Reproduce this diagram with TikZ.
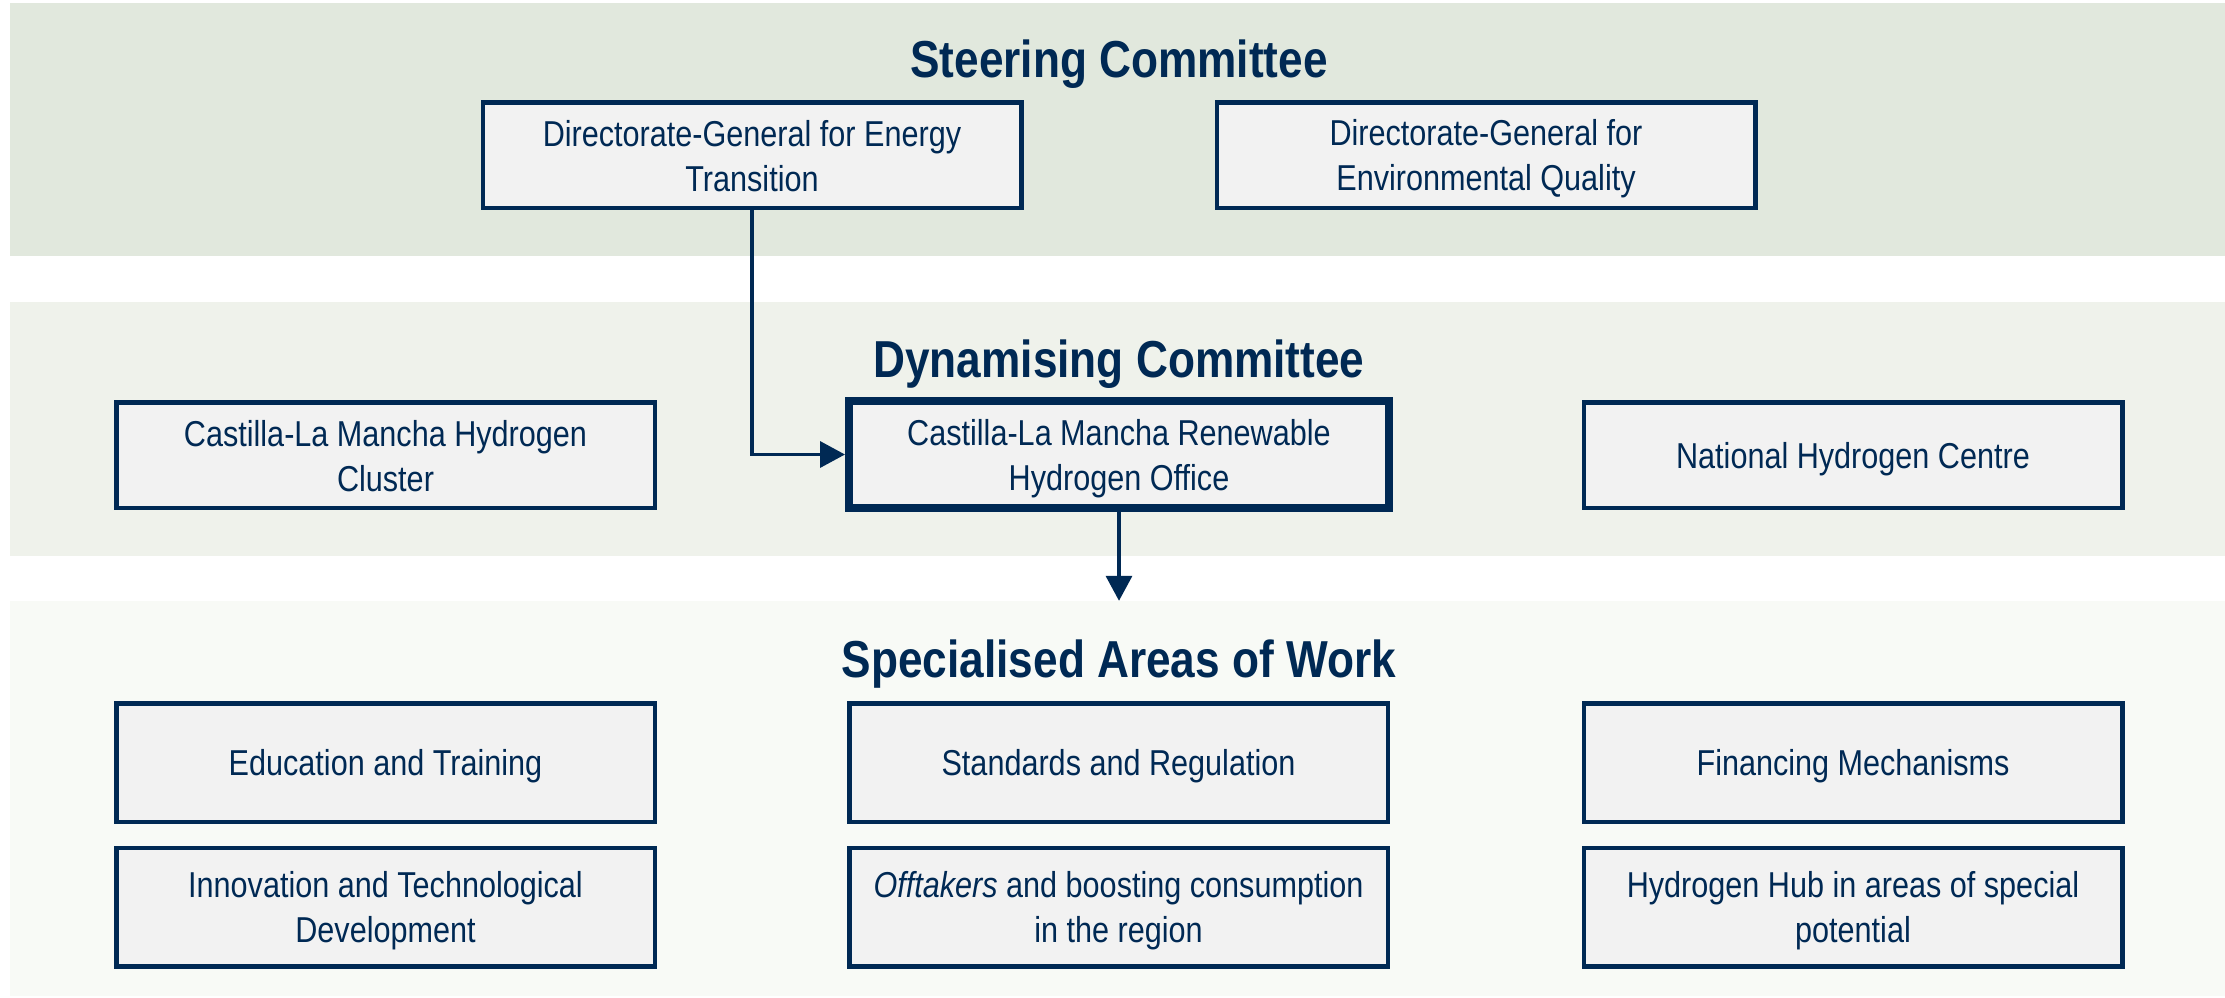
\documentclass[tikz,border=0pt]{standalone}
\usepackage{fontspec}
\setmainfont{Liberation Sans}[FakeStretch=0.85]
\usetikzlibrary{arrows.meta}
\definecolor{navy}{RGB}{0,41,84}
\definecolor{bandA}{RGB}{225,232,221}
\definecolor{bandB}{RGB}{239,242,235}
\definecolor{bandC}{RGB}{248,250,246}
\definecolor{boxfill}{RGB}{242,242,242}
\newcommand\tstrut{\rule{0pt}{34pt}}
\newcommand\bstrut{\rule[-7pt]{0pt}{0pt}}
\tikzset{
  band/.style={draw=none, inner sep=0pt, minimum width=2215pt},
  title/.style={text=navy, font=\fontsize{52}{60}\selectfont\bfseries, anchor=base, inner sep=0pt},
  unit/.style={draw=navy, line width=4.5pt, fill=boxfill, text=navy, align=center,
    font=\fontsize{36}{45}\selectfont, inner sep=0pt,
    minimum width=538.5pt, minimum height=105.5pt},
  lead/.style={unit, line width=8pt, minimum width=540pt, minimum height=107pt},
  tall/.style={minimum height=118.5pt},
  conn/.style={draw=navy, line width=3.5pt, -{Triangle[length=25pt,width=26pt]}}
}
\begin{document}
\begin{tikzpicture}[x=1pt,y=-1pt]
\useasboundingbox (0,0) rectangle (2225,997);
\fill[white] (0,0) rectangle (2225,997);
% bands
\node[band, fill=bandA, minimum height=253pt] (steer) at (1117.5,129.5) {};
\node[band, fill=bandB, minimum height=254pt] (dyn) at (1117.5,429) {};
\node[band, fill=bandC, minimum height=395pt] (areas) at (1117.5,798.5) {};
% titles
\node[title] (tsteer) at (1119,77) {Steering Committee};
\node[title] (tdyn) at (1119,377) {Dynamising Committee};
\node[title] (tareas) at (1119,677) {Specialised Areas of Work};
% steering committee
\node[unit] (dge) at (752,155) {\tstrut Directorate-General for Energy\\Transition\bstrut};
\node[unit] (dgq) at (1486,155) {\tstrut Directorate-General for\\Environmental Quality\bstrut};
% dynamising committee
\node[unit] (cluster) at (385.5,455) {\tstrut Castilla-La Mancha Hydrogen\\Cluster\bstrut};
\node[lead] (office) at (1119,454.5) {\tstrut Castilla-La Mancha Renewable\\Hydrogen Office\bstrut};
\node[unit] (centre) at (1853,455) {\tstrut National Hydrogen Centre\bstrut};
% areas of work
\node[unit, tall] (edu) at (385.5,762.5) {\tstrut Education and Training\bstrut};
\node[unit, tall] (std) at (1118.5,762.5) {\tstrut Standards and Regulation\bstrut};
\node[unit, tall] (fin) at (1853,762.5) {\tstrut Financing Mechanisms\bstrut};
\node[unit, tall] (inn) at (385.5,907) {\tstrut Innovation and Technological\\Development\bstrut};
\node[unit, tall] (off) at (1118.5,907) {\tstrut\textit{Offtakers} and boosting consumption\\in the region\bstrut};
\node[unit, tall] (hub) at (1853,907) {\tstrut Hydrogen Hub in areas of special\\potential\bstrut};
% connectors
\draw[conn] (dge.south) |- (office.west);
\draw[conn] (office.south) -- (office.south |- areas.north);
\end{tikzpicture}
\end{document}
